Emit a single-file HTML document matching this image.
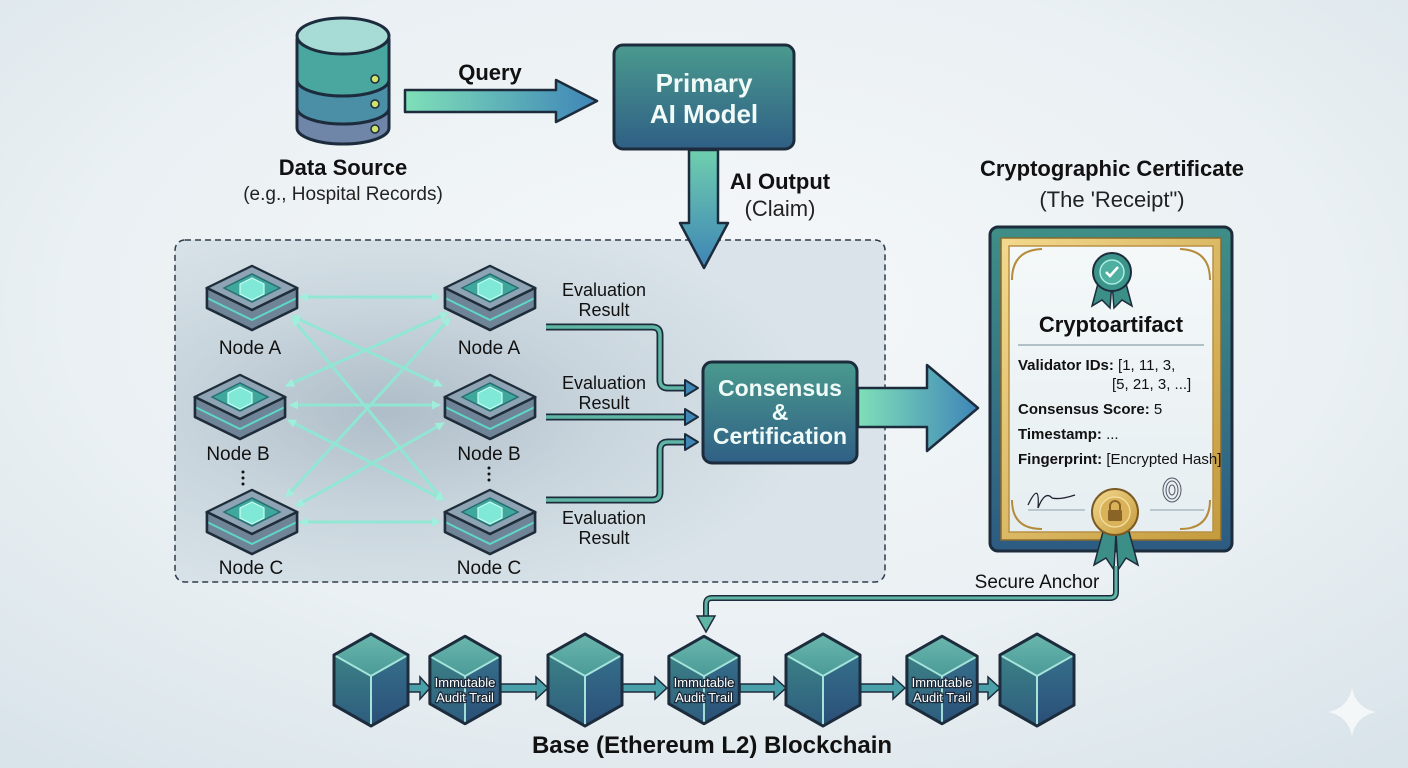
<!DOCTYPE html>
<html><head><meta charset="utf-8"><style>
html,body{margin:0;padding:0;width:1408px;height:768px;overflow:hidden;background:#eef3f6}
svg{display:block}
text{font-family:"Liberation Sans",sans-serif}
</style></head><body>
<svg width="1408" height="768" viewBox="0 0 1408 768" xmlns="http://www.w3.org/2000/svg">
<defs>
<radialGradient id="bg" cx="0.5" cy="0.4" r="0.75"><stop offset="0" stop-color="#f5f8fa"/><stop offset="0.6" stop-color="#eaf0f3"/><stop offset="1" stop-color="#d9e4ea"/></radialGradient>
<radialGradient id="panel" cx="0.3" cy="0.5" r="0.6"><stop offset="0" stop-color="#aebdc8"/><stop offset="0.5" stop-color="#c9d5dd"/><stop offset="1" stop-color="#d9e3e9"/></radialGradient>
<linearGradient id="hArrow" x1="0" x2="1"><stop offset="0" stop-color="#7fe0b8"/><stop offset="1" stop-color="#3f85b8"/></linearGradient>
<linearGradient id="vArrow" x1="0" y1="0" x2="0" y2="1"><stop offset="0" stop-color="#6fcfae"/><stop offset="1" stop-color="#3e84b6"/></linearGradient>
<linearGradient id="box" x1="0" y1="0" x2="0" y2="1"><stop offset="0" stop-color="#4a9a8e"/><stop offset="1" stop-color="#2f5f85"/></linearGradient>
<linearGradient id="cubeL" x1="0" y1="0" x2="0" y2="1"><stop offset="0" stop-color="#3f8b88"/><stop offset="1" stop-color="#2e5c7e"/></linearGradient>
<linearGradient id="cubeR" x1="0" y1="0" x2="0" y2="1"><stop offset="0" stop-color="#356f8a"/><stop offset="1" stop-color="#2b4f78"/></linearGradient>
<linearGradient id="cubeT" x1="0" y1="0" x2="0" y2="1"><stop offset="0" stop-color="#6ab7ad"/><stop offset="1" stop-color="#4a9a98"/></linearGradient>
<linearGradient id="gold" x1="0" y1="0" x2="1" y2="1"><stop offset="0" stop-color="#f3d98e"/><stop offset="1" stop-color="#c49a3c"/></linearGradient>
<linearGradient id="paper" x1="0" y1="0" x2="0" y2="1"><stop offset="0" stop-color="#f4f8f9"/><stop offset="1" stop-color="#e6eef1"/></linearGradient>
<linearGradient id="frame" x1="0" y1="0" x2="0" y2="1"><stop offset="0" stop-color="#3f8e86"/><stop offset="1" stop-color="#2d5b82"/></linearGradient>
<marker id="ah" viewBox="0 0 10 10" refX="9" refY="5" markerWidth="3" markerHeight="3" orient="auto-start-reverse"><path d="M0,0 L10,5 L0,10 z" fill="#9ff0dc"/></marker>
<g id="node">
 <path d="M-45,-8 L0,-30 L45,-8 L45,12 L0,34 L-45,12 Z" fill="#55687a" stroke="#1f2d3a" stroke-width="2.5" stroke-linejoin="round"/>
 <path d="M-45,-8 L0,14 L45,-8 L45,12 L0,34 L-45,12 Z" fill="#6f8497"/>
 <path d="M-45,2 L0,24 L45,2" fill="none" stroke="#5ed6c8" stroke-width="2"/>
 <path d="M-45,-8 L0,-30 L45,-8 L0,14 Z" fill="#8ea3b4" stroke="#1f2d3a" stroke-width="2"/>
 <path d="M-28,-8 L0,-22 L28,-8 L0,6 Z" fill="#3fa79c" stroke="#276e72" stroke-width="1.5"/>
 <path d="M-12,-12 L0,-18 L12,-12 L12,-2 L0,4 L-12,-2 Z" fill="#7fe8d6" stroke="#c9fff4" stroke-width="1.2"/>
 <path d="M-45,-8 L0,14 L45,-8 L45,12 L0,34 L-45,12 Z" fill="none" stroke="#1f2d3a" stroke-width="2.5" stroke-linejoin="round"/>
</g>
<g id="cube">
 <path d="M0,-46 L37,-25 L37,25 L0,46 L-37,25 L-37,-25 Z" fill="url(#cubeL)" stroke="#1d2c3c" stroke-width="3" stroke-linejoin="round"/>
 <path d="M0,-4 L37,-25 L37,25 L0,46 Z" fill="url(#cubeR)"/>
 <path d="M0,-46 L37,-25 L0,-4 L-37,-25 Z" fill="url(#cubeT)"/>
 <path d="M-37,-25 L0,-4 L37,-25 M0,-4 L0,46" stroke="#a5e4da" stroke-width="2" fill="none"/>
 <path d="M0,-46 L37,-25 L37,25 L0,46 L-37,25 L-37,-25 Z" fill="none" stroke="#1d2c3c" stroke-width="3" stroke-linejoin="round"/>
</g>
</defs>
<rect width="1408" height="768" fill="url(#bg)"/>

<!-- Database -->
<g stroke="#1d2c3c" stroke-width="3">
 <path d="M297,110 L297,128 A46,16 0 0 0 389,128 L389,110 Z" fill="#6f86a8"/>
 <path d="M297,82 L297,108 A46,16 0 0 0 389,108 L389,82 Z" fill="#4b8fa7"/>
 <path d="M297,40 L297,80 A46,16 0 0 0 389,80 L389,40 Z" fill="#4aa7a0"/>
 <ellipse cx="343" cy="36" rx="46" ry="18" fill="#a7dcd6"/>
</g>
<g fill="#cfe36d" stroke="#1d2c3c" stroke-width="1.5"><circle cx="375" cy="79" r="4"/><circle cx="375" cy="104" r="4"/><circle cx="375" cy="129" r="4"/></g>
<text x="343" y="175" font-size="22" font-weight="bold" text-anchor="middle" fill="#111">Data Source</text>
<text x="343" y="200" font-size="19" text-anchor="middle" fill="#222">(e.g., Hospital Records)</text>

<!-- Query arrow -->
<path d="M405,90 L556,90 L556,80 L597,101 L556,122 L556,112 L405,112 Z" fill="url(#hArrow)" stroke="#1d2c3c" stroke-width="2.5" stroke-linejoin="round"/>
<text x="490" y="80" font-size="22" font-weight="bold" text-anchor="middle" fill="#111">Query</text>

<!-- Primary AI Model -->
<rect x="614" y="45" width="180" height="104" rx="9" fill="url(#box)" stroke="#1d2c3c" stroke-width="3"/>
<text x="704" y="92" font-size="26" font-weight="bold" text-anchor="middle" fill="#f0fbf8">Primary</text>
<text x="704" y="123" font-size="26" font-weight="bold" text-anchor="middle" fill="#f0fbf8">AI Model</text>

<!-- panel -->
<rect x="175" y="240" width="710" height="342" rx="10" fill="url(#panel)" stroke="#2e3c4a" stroke-width="1.5" stroke-dasharray="6,4"/>

<!-- down arrow -->
<path d="M689,150 L718,150 L718,223 L728,223 L704,268 L680,223 L689,223 Z" fill="url(#vArrow)" stroke="#1d2c3c" stroke-width="2.5" stroke-linejoin="round"/>
<text x="780" y="189" font-size="22" font-weight="bold" text-anchor="middle" fill="#111">AI Output</text>
<text x="780" y="216" font-size="22" text-anchor="middle" fill="#222">(Claim)</text>

<!-- mesh lines -->
<g stroke="#8fe8d4" stroke-width="3" fill="none" marker-start="url(#ah)" marker-end="url(#ah)" opacity="0.95">
 <line x1="300" y1="297" x2="440" y2="297"/>
 <line x1="290" y1="405" x2="440" y2="405"/>
 <line x1="300" y1="522" x2="440" y2="522"/>
 <line x1="292" y1="316" x2="442" y2="386"/>
 <line x1="292" y1="318" x2="443" y2="500"/>
 <line x1="448" y1="313" x2="286" y2="386"/>
 <line x1="450" y1="318" x2="286" y2="497"/>
 <line x1="288" y1="420" x2="444" y2="500"/>
 <line x1="296" y1="506" x2="444" y2="423"/>
</g>
<use href="#node" x="252" y="296"/>
<use href="#node" x="490" y="296"/>
<use href="#node" x="240" y="405"/>
<use href="#node" x="490" y="405"/>
<use href="#node" x="252" y="520"/>
<use href="#node" x="490" y="520"/>
<g font-size="19" text-anchor="middle" fill="#111">
<text x="250" y="354">Node A</text><text x="489" y="354">Node A</text>
<text x="238" y="460">Node B</text><text x="489" y="460">Node B</text>
<text x="251" y="574">Node C</text><text x="489" y="574">Node C</text>
</g>
<g fill="#111"><circle cx="243" cy="472" r="1.5"/><circle cx="243" cy="478" r="1.5"/><circle cx="243" cy="484" r="1.5"/>
<circle cx="489" cy="468" r="1.5"/><circle cx="489" cy="474" r="1.5"/><circle cx="489" cy="480" r="1.5"/></g>

<!-- evaluation connectors -->
<g fill="none" stroke-linejoin="round">
 <path d="M546,327 L652,327 Q660,327 660,335 L660,380 Q660,388 668,388 L690,388" stroke="#1d2c3c" stroke-width="7"/>
 <path d="M546,327 L652,327 Q660,327 660,335 L660,380 Q660,388 668,388 L690,388" stroke="#5fb6a4" stroke-width="3.5"/>
 <path d="M546,417 L690,417" stroke="#1d2c3c" stroke-width="7"/>
 <path d="M546,417 L690,417" stroke="#5fb6a4" stroke-width="3.5"/>
 <path d="M546,500 L652,500 Q660,500 660,492 L660,450 Q660,442 668,442 L690,442" stroke="#1d2c3c" stroke-width="7"/>
 <path d="M546,500 L652,500 Q660,500 660,492 L660,450 Q660,442 668,442 L690,442" stroke="#5fb6a4" stroke-width="3.5"/>
</g>
<g fill="#3f88b5" stroke="#1d2c3c" stroke-width="2" stroke-linejoin="round">
 <path d="M685,380 L698,388 L685,396 Z"/><path d="M685,409 L698,417 L685,425 Z"/><path d="M685,434 L698,442 L685,450 Z"/>
</g>
<g font-size="18" text-anchor="middle" fill="#111">
<text x="604" y="296">Evaluation</text><text x="604" y="316">Result</text>
<text x="604" y="389">Evaluation</text><text x="604" y="409">Result</text>
<text x="604" y="524">Evaluation</text><text x="604" y="544">Result</text>
</g>

<!-- Consensus -->
<rect x="703" y="362" width="154" height="101" rx="9" fill="url(#box)" stroke="#1d2c3c" stroke-width="3"/>
<g font-size="23" font-weight="bold" text-anchor="middle" fill="#f0fbf8">
<text x="780" y="396">Consensus</text><text x="780" y="420">&amp;</text><text x="780" y="444">Certification</text></g>

<!-- big arrow -->
<path d="M858,388 L927,388 L927,365 L978,408 L927,451 L927,427 L858,427 Z" fill="url(#hArrow)" stroke="#1d2c3c" stroke-width="2.5" stroke-linejoin="round"/>

<!-- certificate -->
<text x="1112" y="176" font-size="22" font-weight="bold" text-anchor="middle" fill="#111">Cryptographic Certificate</text>
<text x="1112" y="207" font-size="22" text-anchor="middle" fill="#222">(The 'Receipt")</text>
<rect x="990" y="227" width="242" height="324" rx="8" fill="url(#frame)" stroke="#1d2c3c" stroke-width="3"/>
<rect x="1001" y="238" width="220" height="302" fill="url(#gold)" stroke="#8a6a2a" stroke-width="1.5"/>
<rect x="1009" y="246" width="204" height="286" fill="url(#paper)" stroke="#b89146" stroke-width="1.5"/>
<g fill="none" stroke="#b58c3c" stroke-width="2"><path d="M1012,280 Q1012,250 1042,249"/><path d="M1210,280 Q1210,250 1180,249"/><path d="M1012,500 Q1012,529 1042,529"/><path d="M1210,500 Q1210,529 1180,529"/></g>
<!-- top seal -->
<path d="M1100,276 L1092,306 L1102,300 L1110,308 L1112,282 Z" fill="#3b8f86" stroke="#1d2c3c" stroke-width="1.5"/>
<path d="M1124,276 L1132,306 L1122,300 L1114,308 L1112,282 Z" fill="#3b8f86" stroke="#1d2c3c" stroke-width="1.5"/>
<circle cx="1112" cy="272" r="19" fill="#3b948a" stroke="#1d2c3c" stroke-width="2"/>
<circle cx="1112" cy="272" r="12" fill="#4fb0a2" stroke="#a9ece0" stroke-width="1.5"/>
<path d="M1106,272 L1110,276 L1118,267" fill="none" stroke="#fff" stroke-width="2.5"/>
<text x="1111" y="332" font-size="22" font-weight="bold" text-anchor="middle" fill="#111">Cryptoartifact</text>
<line x1="1018" y1="345" x2="1204" y2="345" stroke="#8aa0aa" stroke-width="1.2"/>
<g font-size="15" fill="#111">
<text x="1018" y="370"><tspan font-weight="bold">Validator IDs:</tspan> [1, 11, 3,</text>
<text x="1112" y="389">[5, 21, 3, ...]</text>
<text x="1018" y="414"><tspan font-weight="bold">Consensus Score:</tspan> 5</text>
<text x="1018" y="439"><tspan font-weight="bold">Timestamp:</tspan> ...</text>
<text x="1018" y="464"><tspan font-weight="bold">Fingerprint:</tspan> [Encrypted Hash]</text>
</g>
<path d="M1028,505 Q1040,480 1038,508 Q1045,490 1052,498 Q1060,500 1075,495" fill="none" stroke="#223" stroke-width="1.3"/>
<line x1="1028" y1="510" x2="1085" y2="510" stroke="#8aa0aa"/>
<line x1="1150" y1="510" x2="1204" y2="510" stroke="#8aa0aa"/>
<g fill="none" stroke="#556" stroke-width="1"><ellipse cx="1172" cy="490" rx="9" ry="12"/><ellipse cx="1172" cy="490" rx="6" ry="9"/><ellipse cx="1172" cy="490" rx="3" ry="5"/></g>
<!-- bottom seal ribbon -->
<path d="M1104,528 L1094,565 L1106,558 L1114,570 L1116,532 Z" fill="#3b8f86" stroke="#1d2c3c" stroke-width="1.5"/>
<path d="M1128,528 L1138,565 L1126,558 L1118,570 L1116,532 Z" fill="#3b8f86" stroke="#1d2c3c" stroke-width="1.5"/>
<circle cx="1115" cy="512" r="23" fill="url(#gold)" stroke="#7a5a22" stroke-width="2"/>
<circle cx="1115" cy="512" r="15" fill="#d9b25a" stroke="#f6e2a6" stroke-width="1.2"/>
<rect x="1108" y="510" width="14" height="11" rx="1.5" fill="#8a6426"/>
<path d="M1110,510 L1110,506 A5,5 0 0 1 1120,506 L1120,510" fill="none" stroke="#8a6426" stroke-width="2"/>

<!-- secure anchor -->
<path d="M1116,566 L1116,592 Q1116,598 1110,598 L712,598 Q706,598 706,604 L706,620" fill="none" stroke="#1d2c3c" stroke-width="6"/>
<path d="M1116,566 L1116,592 Q1116,598 1110,598 L712,598 Q706,598 706,604 L706,620" fill="none" stroke="#5fb6a4" stroke-width="3"/>
<path d="M697,616 L715,616 L706,632 Z" fill="#5fb6a4" stroke="#1d2c3c" stroke-width="1.5"/>
<text x="1037" y="588" font-size="19" text-anchor="middle" fill="#111">Secure Anchor</text>

<!-- blockchain -->
<g fill="#4aa0a8" stroke="#1d2c3c" stroke-width="1.5">
 <path d="M408,684 L420,684 L420,677 L430,688 L420,699 L420,692 L408,692 Z"/>
 <path d="M500,684 L536,684 L536,677 L548,688 L536,699 L536,692 L500,692 Z"/>
 <path d="M622,684 L655,684 L655,677 L667,688 L655,699 L655,692 L622,692 Z"/>
 <path d="M740,684 L774,684 L774,677 L786,688 L774,699 L774,692 L740,692 Z"/>
 <path d="M860,684 L893,684 L893,677 L905,688 L893,699 L893,692 L860,692 Z"/>
 <path d="M978,684 L988,684 L988,677 L1000,688 L988,699 L988,692 L978,692 Z"/>
</g>
<use href="#cube" x="371" y="680"/>
<use href="#cube" x="465" y="680" transform="translate(465,680) scale(0.95) translate(-465,-680)"/>
<use href="#cube" x="585" y="680"/>
<use href="#cube" x="704" y="680" transform="translate(704,680) scale(0.95) translate(-704,-680)"/>
<use href="#cube" x="823" y="680"/>
<use href="#cube" x="942" y="680" transform="translate(942,680) scale(0.95) translate(-942,-680)"/>
<use href="#cube" x="1037" y="680"/>
<g font-size="13" text-anchor="middle" fill="#fff" stroke="#1d2c3c" stroke-width="2.5" paint-order="stroke">
<text x="465" y="687">Immutable</text><text x="465" y="702">Audit Trail</text>
<text x="704" y="687">Immutable</text><text x="704" y="702">Audit Trail</text>
<text x="942" y="687">Immutable</text><text x="942" y="702">Audit Trail</text>
</g>
<text x="712" y="753" font-size="24" font-weight="bold" text-anchor="middle" fill="#111">Base (Ethereum L2) Blockchain</text>

<!-- sparkle -->
<path d="M1352,688 Q1356,708 1376,712 Q1356,716 1352,736 Q1348,716 1328,712 Q1348,708 1352,688 Z" fill="#f4f7f8"/>
</svg>
</body></html>
